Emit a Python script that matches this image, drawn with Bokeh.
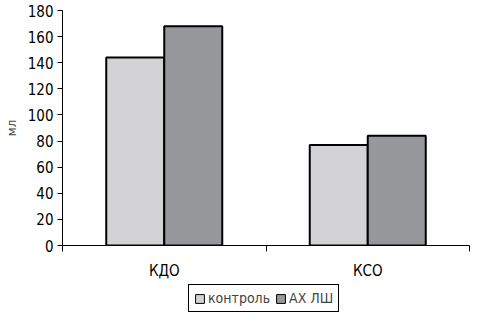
from bokeh.plotting import figure
from bokeh.layouts import column
from bokeh.models import ColumnDataSource, FixedTicker, Legend, LegendItem, Range1d
from bokeh.embed import file_html
from bokeh.resources import INLINE

categories = ["КДО", "КСО"]
series_names = ["контроль", "АХ ЛШ"]
control = [144, 77]
ahlsh = [168, 84]
y_ticks = [0, 20, 40, 60, 80, 100, 120, 140, 160, 180]

FONT = "DejaVu Sans Condensed"
light = "#d3d3d5"
dark = "#97989c"

p = figure(width=478, height=282, output_backend="svg", toolbar_location=None,
           x_range=Range1d(0, 2), y_range=Range1d(0, 180),
           min_border_left=60, min_border_right=9, min_border_top=10, min_border_bottom=37)

centers = [i + 0.5 for i in range(len(categories))]
bw = 0.285
src_c = ColumnDataSource(dict(x=[c - bw / 2 for c in centers], top=control))
src_a = ColumnDataSource(dict(x=[c + bw / 2 for c in centers], top=ahlsh))
r1 = p.vbar(x="x", top="top", width=bw, bottom=0, source=src_c, fill_color=light,
            line_color="black", line_width=2)
r2 = p.vbar(x="x", top="top", width=bw, bottom=0, source=src_a, fill_color=dark,
            line_color="black", line_width=2)

p.grid.visible = False
p.outline_line_color = None
p.background_fill_color = "white"
p.border_fill_color = "white"

xa = p.xaxis[0]
xa.ticker = FixedTicker(ticks=centers, minor_ticks=[0, 1, 2])
xa.major_label_overrides = {c: n for c, n in zip(centers, categories)}
xa.major_tick_out = 0
xa.major_tick_in = 0
xa.minor_tick_out = 6
xa.minor_tick_in = 0
xa.minor_tick_line_color = "black"
xa.axis_line_color = "black"
xa.major_label_text_font = FONT
xa.major_label_text_font_size = "15px"
xa.major_label_text_color = "black"
xa.major_label_standoff = 10

ya = p.yaxis[0]
ya.ticker = FixedTicker(ticks=y_ticks)
ya.major_tick_out = 5
ya.major_tick_in = 0
ya.minor_tick_out = 0
ya.minor_tick_in = 0
ya.axis_line_color = "black"
ya.major_label_text_font = FONT
ya.major_label_text_font_size = "15px"
ya.major_label_text_color = "black"
ya.major_label_standoff = 4
ya.axis_label = "мл"
ya.axis_label_text_font = FONT
ya.axis_label_text_font_size = "13px"
ya.axis_label_text_font_style = "normal"
ya.axis_label_standoff = 6

# legend strip below the chart
p2 = figure(width=478, height=42, output_backend="svg", toolbar_location=None,
            x_range=Range1d(0, 1), y_range=Range1d(0, 1),
            min_border_left=60, min_border_right=9, min_border_top=0, min_border_bottom=0)
p2.axis.visible = False
p2.grid.visible = False
p2.outline_line_color = None
p2.border_fill_color = "white"
# tiny key-carrier bars hidden beneath the opaque legend box
hidden = ColumnDataSource(dict(x=[0.5], top=[0.55]))
l1 = p2.vbar(x="x", top="top", width=0.005, bottom=0.5, source=hidden, fill_color=light,
             line_color="black", line_width=1)
l2 = p2.vbar(x="x", top="top", width=0.005, bottom=0.5, source=hidden, fill_color=dark,
             line_color="black", line_width=1)

legend = Legend(items=[LegendItem(label=series_names[0], renderers=[l1]),
                       LegendItem(label=series_names[1], renderers=[l2])],
                orientation="horizontal", location=(126, 12),
                label_text_font=FONT, label_text_font_size="14px",
                label_height=15,
                background_fill_color="white", background_fill_alpha=1,
                border_line_color="black", border_line_width=1, border_line_alpha=1,
                glyph_width=11, glyph_height=11, label_standoff=3, spacing=5,
                padding=5, margin=0)
p2.add_layout(legend, "center")

layout = column(p, p2, spacing=0)
open("out.html", "w").write(file_html(layout, INLINE))
